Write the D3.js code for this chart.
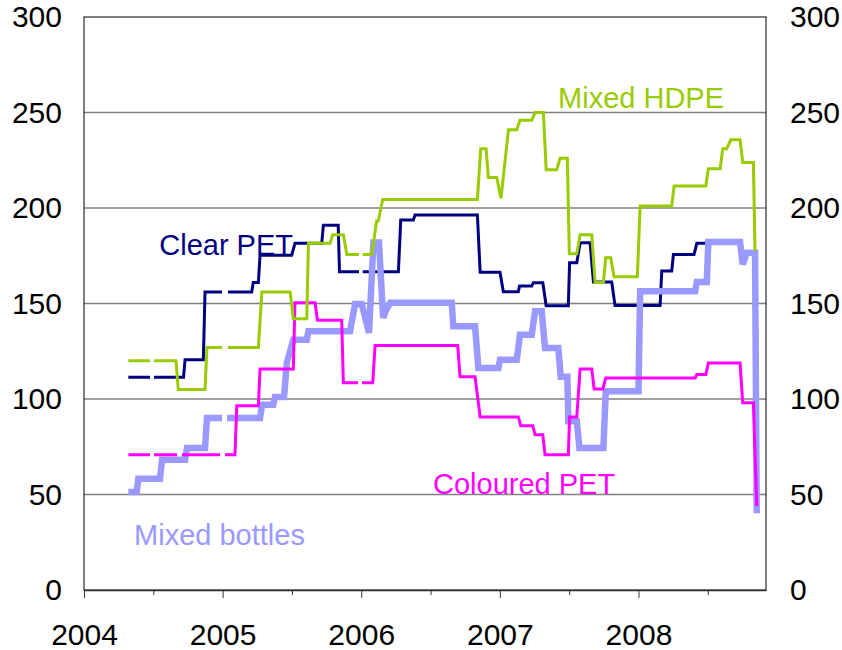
<!DOCTYPE html>
<html>
<head>
<meta charset="utf-8">
<script src="https://cdnjs.cloudflare.com/ajax/libs/d3/7.8.5/d3.min.js"></script>
<style>
  body { margin: 0; background: #fff; }
  svg { display: block; font-family: "Liberation Sans", Arial, sans-serif; }
</style>
</head>
<body>
<svg id="chart" width="842" height="650"></svg>
<script>
// decimal year, value (null = gap in the series)
var mixedHdpe = [
  [2004.320,120],[2004.476,120],[2004.490,null],[2004.505,120],[2004.664,120],[2004.680,105],[2004.873,105],[2004.887,127],
  [2004.996,127],[2005.013,null],[2005.039,127],[2005.258,127],[2005.283,156],[2005.487,156],[2005.510,142],[2005.607,142],
  [2005.619,181.5],[2005.775,181.5],[2005.794,186],[2005.871,186],[2005.896,175.7],[2005.984,175.7],[2005.998,null],[2006.011,175.7],
  [2006.076,175.7],[2006.111,193.2],[2006.123,193.2],[2006.155,204.5],[2006.838,204.5],[2006.862,231],[2006.901,231],[2006.917,216],
  [2006.978,216],[2007.008,205],[2007.062,241],[2007.122,241],[2007.145,246],[2007.230,246],[2007.254,250],[2007.314,250],
  [2007.334,220],[2007.410,220],[2007.434,226],[2007.487,226],[2007.501,176],[2007.555,176],[2007.579,186],[2007.663,186],
  [2007.687,161],[2007.747,161],[2007.764,174],[2007.800,174],[2007.824,164],[2007.992,164],[2008.012,201],[2008.240,201],
  [2008.257,211.5],[2008.486,211.5],[2008.504,220.6],[2008.589,220.6],[2008.608,231],[2008.636,231],[2008.666,235.7],[2008.733,235.7],
  [2008.752,223.8],[2008.829,223.8],[2008.841,177.5]
];
var clearPet = [
  [2004.320,111.4],[2004.476,111.4],[2004.490,null],[2004.505,111.4],[2004.718,111.4],[2004.729,120.6],[2004.861,120.6],[2004.873,156],
  [2004.996,156],[2005.013,null],[2005.039,156],[2005.210,156],[2005.221,161],[2005.258,161],[2005.270,175.2],[2005.498,175.2],
  [2005.522,181.5],[2005.715,181.5],[2005.727,191],[2005.834,191],[2005.843,166.6],[2005.984,166.6],[2005.998,null],[2006.011,166.6],
  [2006.268,166.6],[2006.285,193.7],[2006.376,193.7],[2006.388,196.3],[2006.838,196.3],[2006.858,166.4],[2007.001,166.4],[2007.025,156.1],
  [2007.133,156.1],[2007.142,159.1],[2007.230,159.1],[2007.242,160.9],[2007.310,160.9],[2007.334,148.8],[2007.494,148.8],[2007.503,171.3],
  [2007.555,171.3],[2007.579,181.8],[2007.651,181.8],[2007.675,161.2],[2007.807,161.2],[2007.831,148.9],[2008.156,148.9],[2008.168,167],
  [2008.240,167],[2008.252,175.7],[2008.401,175.7],[2008.421,181.5],[2008.733,181.5],[2008.752,171],[2008.781,176],[2008.841,176]
];
var colouredPet = [
  [2004.320,70.8],[2004.476,70.8],[2004.490,null],[2004.505,70.8],[2004.671,70.8],[2004.687,null],[2004.707,70.8],[2004.981,70.8],
  [2004.998,null],[2005.017,70.8],[2005.089,70.8],[2005.102,96.5],[2005.258,96.5],[2005.270,115.7],[2005.510,115.7],[2005.522,150.4],
  [2005.667,150.4],[2005.684,141.2],[2005.859,141.2],[2005.871,108.5],[2005.977,108.5],[2005.991,null],[2006.006,108.5],[2006.083,108.5],
  [2006.100,128],[2006.696,128],[2006.713,111.6],[2006.821,111.6],[2006.858,90.6],[2007.133,90.6],[2007.151,86],[2007.237,86],
  [2007.254,81.3],[2007.310,81.3],[2007.326,70.8],[2007.494,70.8],[2007.503,90.6],[2007.555,90.6],[2007.579,115.7],[2007.663,115.7],
  [2007.680,105.3],[2007.743,105.3],[2007.764,111],[2008.409,111],[2008.421,112.8],[2008.486,112.8],[2008.504,118.9],[2008.733,118.9],
  [2008.752,98],[2008.829,98],[2008.853,44]
];
var mixedBottles = [
  [2004.320,51.3],[2004.380,51.3],[2004.392,58.2],[2004.548,58.2],[2004.563,68.2],[2004.729,68.2],[2004.743,74.3],[2004.873,74.3],
  [2004.887,90],[2004.996,90],[2005.013,null],[2005.032,90],[2005.270,90],[2005.285,97],[2005.365,97],[2005.378,101],
  [2005.443,101],[2005.463,119],[2005.510,131],[2005.607,131],[2005.619,135.5],[2005.919,135.5],[2005.956,149.8],[2006.004,149.8],
  [2006.056,134.6],[2006.088,182],[2006.128,182],[2006.158,142.5],[2006.176,146],[2006.208,150.4],[2006.653,150.4],[2006.664,138.1],
  [2006.821,138.1],[2006.845,116.2],[2006.990,116.2],[2007.001,120.6],[2007.122,120.6],[2007.145,133.7],[2007.230,133.7],[2007.254,146],
  [2007.302,146],[2007.326,126.7],[2007.422,126.7],[2007.439,111.6],[2007.487,111.6],[2007.494,88.3],[2007.555,88.3],[2007.574,74.3],
  [2007.747,74.3],[2007.764,104],[2008.000,104],[2008.012,156.4],[2008.409,156.4],[2008.421,161.2],[2008.493,161.2],[2008.504,182.2],
  [2008.733,182.2],[2008.752,170.5],[2008.781,176.6],[2008.841,176.6],[2008.853,40.2]
];

var yearTicks = [2004, 2005, 2006, 2007, 2008];
var halfYearTicks = [2004.5, 2005.5, 2006.5, 2007.5, 2008.5];
var valueTicks = [0, 50, 100, 150, 200, 250, 300];

(function () {
  // drawing order: navy under blue, pink and green on top
  var series = [
    { name: "Clear PET", data: clearPet, color: "#000080", width: 3, label: [2004.543, 175.4] },
    { name: "Mixed bottles", data: mixedBottles, color: "#9999ff", width: 6.5, label: [2004.361, 23.6] },
    { name: "Coloured PET", data: colouredPet, color: "#ff00ff", width: 3, label: [2006.518, 50.5] },
    { name: "Mixed HDPE", data: mixedHdpe, color: "#99cc00", width: 3, label: [2007.42, 252.2] }
  ];

  var svg = d3.select("#chart");
  var box = { left: 84, right: 766, top: 17, bottom: 590 };

  var x = d3.scaleLinear().domain([2004, 2008.92]).range([box.left, box.right]);
  var y = d3.scaleLinear().domain([0, 300]).range([box.bottom, box.top]);

  // gridlines
  svg.append("g")
    .selectAll("line")
    .data(valueTicks.filter(function (d) { return d > 0 && d < 300; }))
    .enter()
    .append("line")
    .attr("x1", box.left).attr("x2", box.right)
    .attr("y1", function (d) { return y(d); })
    .attr("y2", function (d) { return y(d); })
    .attr("stroke", "#808080")
    .attr("stroke-width", 1.4);

  // plot border
  svg.append("rect")
    .attr("x", box.left).attr("y", box.top)
    .attr("width", box.right - box.left).attr("height", box.bottom - box.top)
    .attr("fill", "none")
    .attr("stroke", "#000")
    .attr("stroke-width", 1);

  var yLeft = svg.append("g")
    .attr("transform", "translate(" + box.left + ",0)")
    .call(d3.axisLeft(y).tickValues(valueTicks).tickSize(0).tickPadding(22));
  var yRight = svg.append("g")
    .attr("transform", "translate(" + box.right + ",0)")
    .call(d3.axisRight(y).tickValues(valueTicks).tickSize(0).tickPadding(24));
  [yLeft, yRight].forEach(function (g) {
    g.select(".domain").remove();
    g.selectAll("text").attr("font-size", 30).attr("fill", "#000")
      .attr("font-family", "Liberation Sans, Arial, sans-serif");
  });

  var xMajor = svg.append("g")
    .attr("transform", "translate(0," + box.bottom + ")")
    .call(d3.axisBottom(x).tickValues(yearTicks).tickFormat(d3.format("d")).tickSizeInner(8).tickSizeOuter(0).tickPadding(26));
  xMajor.select(".domain").attr("stroke", "#333").attr("stroke-width", 1.5);
  xMajor.selectAll(".tick line").attr("stroke", "#333");
  xMajor.selectAll("text").attr("font-size", 30).attr("fill", "#000")
    .attr("font-family", "Liberation Sans, Arial, sans-serif");

  var xMinor = svg.append("g")
    .attr("transform", "translate(0," + box.bottom + ")")
    .call(d3.axisBottom(x).tickValues(halfYearTicks).tickFormat("").tickSize(5));
  xMinor.select(".domain").remove();
  xMinor.selectAll(".tick line").attr("stroke", "#333");

  var line = d3.line()
    .defined(function (d) { return d[1] !== null; })
    .x(function (d) { return x(d[0]); })
    .y(function (d) { return y(d[1]); });

  svg.append("g")
    .selectAll("path")
    .data(series)
    .enter()
    .append("path")
    .attr("fill", "none")
    .attr("stroke", function (d) { return d.color; })
    .attr("stroke-width", function (d) { return d.width; })
    .attr("stroke-linejoin", "miter")
    .attr("stroke-miterlimit", 2)
    .attr("d", function (d) { return line(d.data); });

  svg.append("g")
    .selectAll("text")
    .data(series)
    .enter()
    .append("text")
    .attr("x", function (d) { return x(d.label[0]); })
    .attr("y", function (d) { return y(d.label[1]); })
    .attr("fill", function (d) { return d.color; })
    .attr("font-size", 29)
    .text(function (d) { return d.name; });
})();
</script>
</body>
</html>
